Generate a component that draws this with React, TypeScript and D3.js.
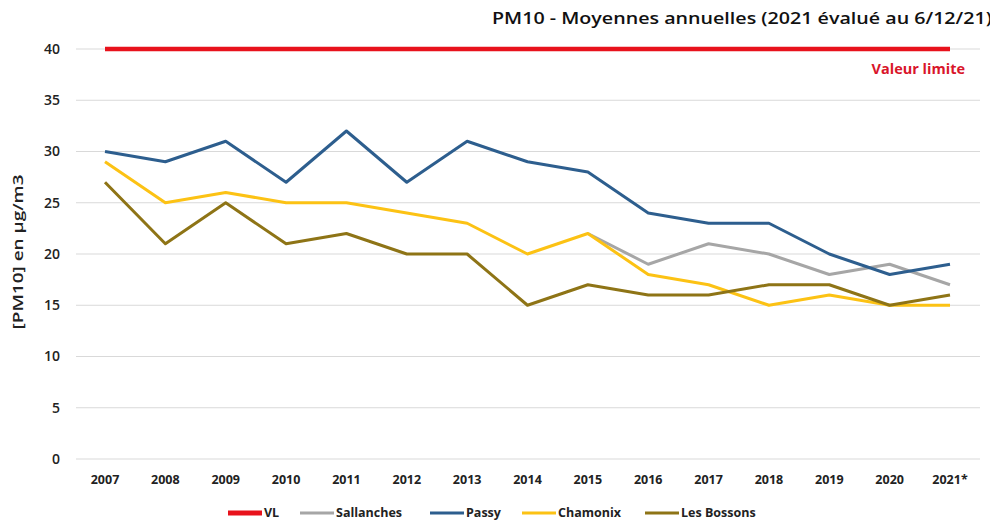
import { scaleLinear, scalePoint, line } from "d3";

const width = 990;
const height = 522;

const years = ["2007", "2008", "2009", "2010", "2011", "2012", "2013", "2014", "2015", "2016", "2017", "2018", "2019", "2020", "2021*"];
const yTicks = [0, 5, 10, 15, 20, 25, 30, 35, 40];

const vl = [40, 40, 40, 40, 40, 40, 40, 40, 40, 40, 40, 40, 40, 40, 40];
const sallanches = [null, null, null, null, null, null, null, null, 22, 19, 21, 20, 18, 19, 17];
const passy = [30, 29, 31, 27, 32, 27, 31, 29, 28, 24, 23, 23, 20, 18, 19];
const chamonix = [29, 25, 26, 25, 25, 24, 23, 20, 22, 18, 17, 15, 16, 15, 15];
const bossons = [27, 21, 25, 21, 22, 20, 20, 15, 17, 16, 16, 17, 17, 15, 16];

const series = [
  { name: "VL", values: vl, color: "#e8121c", w: 4.5 },
  { name: "Sallanches", values: sallanches, color: "#a6a6a6", w: 3 },
  { name: "Passy", values: passy, color: "#2d5e8e", w: 3 },
  { name: "Chamonix", values: chamonix, color: "#fcc214", w: 3 },
  { name: "Les Bossons", values: bossons, color: "#8e7416", w: 3 },
];

const legendX = [228, 300, 430, 522, 645];

const font = "'Open Sans', sans-serif";

export default function App() {
  const xScale = scalePoint<string>().domain(years).range([105, 950]);
  const yScale = scaleLinear().domain([0, 40]).range([459, 49]);

  const lineGen = line<number | null>()
    .defined((d) => d !== null)
    .x((_, i) => xScale(years[i]) as number)
    .y((d) => yScale(d as number));

  // draw order: VL first, Les Bossons last
  const drawOrder = [0, 1, 3, 4, 2];

  return (
    <svg width={width} height={height} style={{ position: "absolute", left: 0, top: 0, background: "#fff" }} fontFamily={font}>
      <text x={492} y={24} fontSize={17} fontWeight="600" fill="#111" textLength={500} lengthAdjust="spacingAndGlyphs">
        PM10 - Moyennes annuelles (2021 évalué au 6/12/21)
      </text>

      {yTicks.map((t) => (
        <g key={t}>
          <line x1={76} x2={980} y1={yScale(t)} y2={yScale(t)} stroke="#d9d9d9" strokeWidth={1.2} />
          <text x={60} y={yScale(t)} dy="0.35em" textAnchor="end" fontSize={14} fontWeight="600" fill="#222">
            {t}
          </text>
        </g>
      ))}

      <text
        transform={`translate(23,${yScale(20) - 2}) rotate(-90)`}
        textAnchor="middle"
        fontSize={14.5}
        fontWeight="600"
        fill="#222"
        textLength={155}
        lengthAdjust="spacingAndGlyphs"
      >
        [PM10] en µg/m3
      </text>

      {years.map((y) => (
        <text key={y} x={xScale(y)} y={484} textAnchor="middle" fontSize={12.5} fontWeight="bold" fill="#222">
          {y}
        </text>
      ))}

      {drawOrder.map((i) => {
        const s = series[i];
        return (
          <path
            key={s.name}
            d={lineGen(s.values) || ""}
            fill="none"
            stroke={s.color}
            strokeWidth={s.w}
            strokeLinejoin="round"
          />
        );
      })}

      <text x={965} y={74} textAnchor="end" fontSize={14.5} fontWeight="bold" fill="#d9152a">
        Valeur limite
      </text>

      {series.map((s, i) => (
        <g key={s.name} transform={`translate(${legendX[i]},513)`}>
          <line x1={0} x2={34} y1={0} y2={0} stroke={s.color} strokeWidth={i === 0 ? 5 : 3} />
          <text x={36} y={0} dy="0.35em" fontSize={12.5} fontWeight="bold" fill="#222">
            {s.name}
          </text>
        </g>
      ))}
    </svg>
  );
}
